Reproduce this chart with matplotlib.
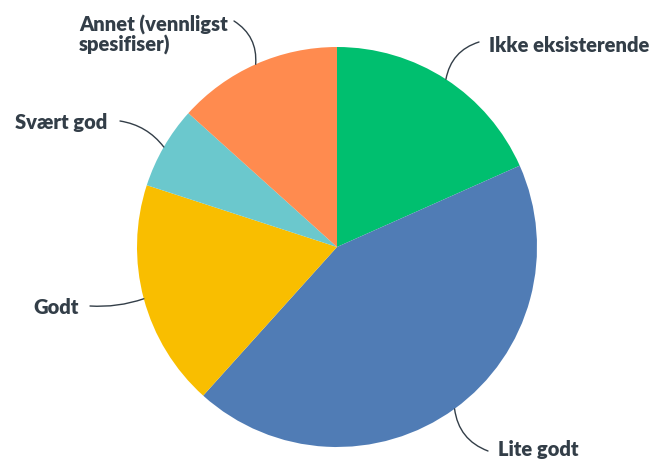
import numpy as np
import matplotlib
matplotlib.use("Agg")
import matplotlib.pyplot as plt

labels = ["Ikke eksisterende", "Lite godt", "Godt", "Svært god", "Annet (vennligst\nspesifiser)"]
values = [11, 26, 11, 4, 8]
colors = ["#00bf6f", "#507cb5", "#f9be00", "#6bc8cd", "#ff8b4f"]

W, H = 653, 460
fig = plt.figure(figsize=(W / 100, H / 100), dpi=100)
ax = fig.add_axes([0, 0, 1, 1])

cx, cy, r = 337, H - 248, 200
wedges, _ = ax.pie(values, colors=colors, startangle=90, counterclock=False,
                   center=(cx, cy), radius=r, frame=True)
ax.set_xlim(0, W)
ax.set_ylim(0, H)
ax.set_aspect("equal")
ax.axis("off")

# label positions (pixels, y from top): line end, text anchor, alignment, curvature
label_layout = [
    ((479, 43), (489, 45), "left", 0.3),
    ((488, 452), (498, 450), "left", -0.3),
    ((90, 307), (79, 307), "right", 0.1),
    ((120, 122), (107, 122), "right", -0.2),
    ((234, 22), (79, 35), "left", -0.3),
]

for w, lab, (end, txt, ha, rad) in zip(wedges, labels, label_layout):
    ang = np.deg2rad((w.theta1 + w.theta2) / 2)
    edge = (cx + r * np.cos(ang), cy + r * np.sin(ang))
    ax.annotate("", xy=edge, xytext=(end[0], H - end[1]),
                arrowprops=dict(arrowstyle="-", color="#333e48", lw=1,
                                shrinkA=0, shrinkB=0,
                                connectionstyle="arc3,rad=%s" % rad))
    ax.text(txt[0], H - txt[1], lab, ha=ha, va="center", fontsize=14.5,
            fontweight="heavy", family="Lato", color="#333e48", linespacing=1.05)

fig.savefig("out.png", dpi=100)
